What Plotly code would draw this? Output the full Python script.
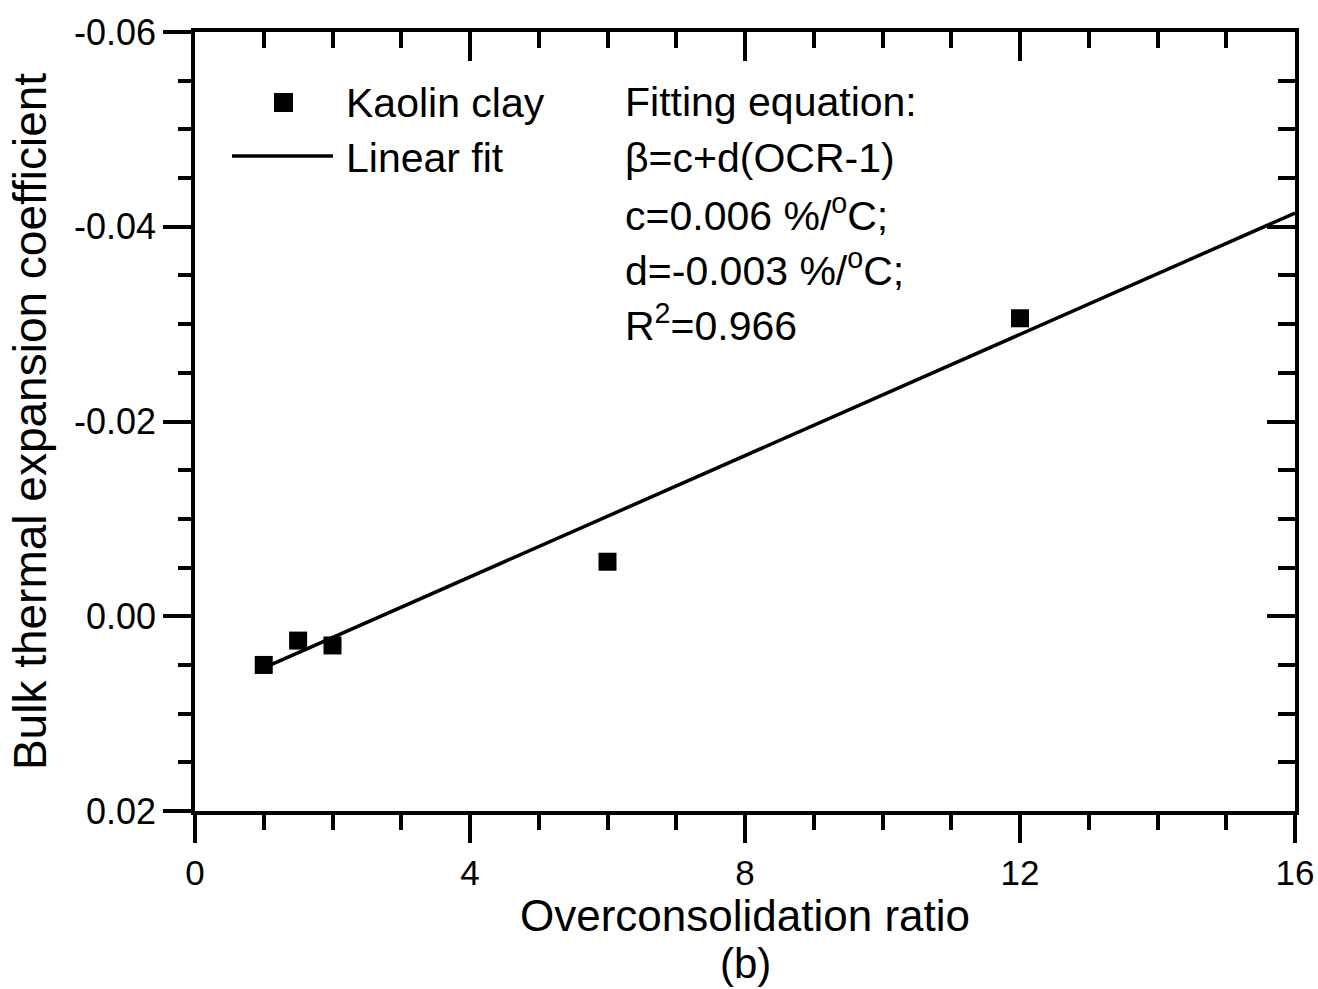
import plotly.graph_objects as go

# Data
ocr = [1.0, 1.5, 2.0, 6.0, 12.0]
beta = [0.0050, 0.0025, 0.0030, -0.0056, -0.0306]

fit_x = [1.0, 16.0]
fit_y = [0.0053, -0.0414]

x_ticks = [0, 4, 8, 12, 16]
x_ticktext = ["0", "4", "8", "12", "16"]
y_ticks = [-0.06, -0.04, -0.02, 0.00, 0.02]
y_ticktext = ["-0.06", "-0.04", "-0.02", "0.00", "0.02"]

x_title = "Overconsolidation ratio"
y_title = "Bulk thermal expansion coefficient"
panel_label = "(b)"

eq_lines = [
    "Fitting equation:",
    "β=c+d(OCR-1)",
    "c=0.006 %/<sup>o</sup>C;",
    "d=-0.003 %/<sup>o</sup>C;",
    "R<sup>2</sup>=0.966",
]

FONT = "Liberation Sans, Arial, sans-serif"
W, H = 1318, 989
L, R, T, B = 195, 23, 32, 178
PW, PH = W - L - R, H - T - B
LW = 3.5


def px(xp):
    return (xp - L) / PW


def py(yp):
    return 1 - (yp - T) / PH


fig = go.Figure()
fig.add_trace(go.Scatter(
    x=fit_x, y=fit_y, mode="lines", name="Linear fit",
    line=dict(color="black", width=LW), showlegend=False,
))
fig.add_trace(go.Scatter(
    x=ocr, y=beta, mode="markers", name="Kaolin clay",
    marker=dict(symbol="square", size=18, color="black", line=dict(width=0)),
    showlegend=False,
))
# invisible trace so that the mirrored (top/right) axes are drawn
fig.add_trace(go.Scatter(
    x=fit_x, y=fit_y, xaxis="x2", yaxis="y2", mode="lines",
    line=dict(width=0), opacity=0, showlegend=False, hoverinfo="skip",
))

tick_common = dict(tickwidth=LW, tickcolor="black",
                   showline=True, linewidth=LW, linecolor="black",
                   showgrid=False, zeroline=False, automargin=False)

fig.update_layout(
    width=W, height=H,
    margin=dict(l=L, r=R, t=T, b=B),
    paper_bgcolor="white", plot_bgcolor="white",
    font=dict(family=FONT, color="black"),
    xaxis=dict(
        range=[0, 16], tickmode="array", tickvals=x_ticks, ticktext=x_ticktext,
        ticks="outside", ticklen=28, tickfont=dict(size=35),
        minor=dict(tickmode="linear", tick0=0, dtick=1, ticks="outside",
                   ticklen=15, tickwidth=LW, tickcolor="black"),
        **tick_common,
    ),
    yaxis=dict(
        range=[0.02, -0.06], tickmode="array", tickvals=y_ticks, ticktext=y_ticktext,
        ticks="outside", ticklen=28, tickfont=dict(size=36),
        minor=dict(tickmode="linear", tick0=0, dtick=0.005, ticks="outside",
                   ticklen=13, tickwidth=LW, tickcolor="black"),
        title=dict(text=y_title, font=dict(size=46), standoff=14),
        **tick_common,
    ),
    xaxis2=dict(
        overlaying="x", side="top", range=[0, 16], tickmode="array", tickvals=x_ticks,
        ticks="inside", ticklen=29, showticklabels=False,
        minor=dict(tickmode="linear", tick0=0, dtick=1, ticks="inside",
                   ticklen=16, tickwidth=LW, tickcolor="black"),
        **tick_common,
    ),
    yaxis2=dict(
        overlaying="y", side="right", range=[0.02, -0.06], tickmode="array", tickvals=y_ticks,
        ticks="inside", ticklen=28, showticklabels=False,
        minor=dict(tickmode="linear", tick0=0, dtick=0.005, ticks="inside",
                   ticklen=17, tickwidth=LW, tickcolor="black"),
        **tick_common,
    ),
)

# Manual legend
fig.add_shape(type="rect", xref="paper", yref="paper",
              x0=px(274), x1=px(293), y0=py(112), y1=py(93),
              fillcolor="black", line=dict(width=0))
fig.add_shape(type="line", xref="paper", yref="paper",
              x0=px(232), x1=px(333), y0=py(156), y1=py(156),
              line=dict(color="black", width=LW))
fig.add_annotation(text="Kaolin clay", xref="paper", yref="paper",
                   x=px(344), y=py(103), xanchor="left", yanchor="middle",
                   showarrow=False, font=dict(size=41))
fig.add_annotation(text="Linear fit", xref="paper", yref="paper",
                   x=px(344), y=py(158), xanchor="left", yanchor="middle",
                   showarrow=False, font=dict(size=41))

# Equation text
eq_y = [102, 158, 213, 268, 323]
for t, yy in zip(eq_lines, eq_y):
    fig.add_annotation(text=t, xref="paper", yref="paper",
                       x=px(623), y=py(yy), xanchor="left", yanchor="middle",
                       showarrow=False, font=dict(size=41))

# x-axis title and panel label
fig.add_annotation(text=x_title, xref="paper", yref="paper",
                   x=0.5, y=py(942), xanchor="center", yanchor="bottom",
                   showarrow=False, font=dict(size=44))
fig.add_annotation(text=panel_label, xref="paper", yref="paper",
                   x=0.5, y=py(989), xanchor="center", yanchor="bottom",
                   showarrow=False, font=dict(size=42))

fig.write_html("out.html")
